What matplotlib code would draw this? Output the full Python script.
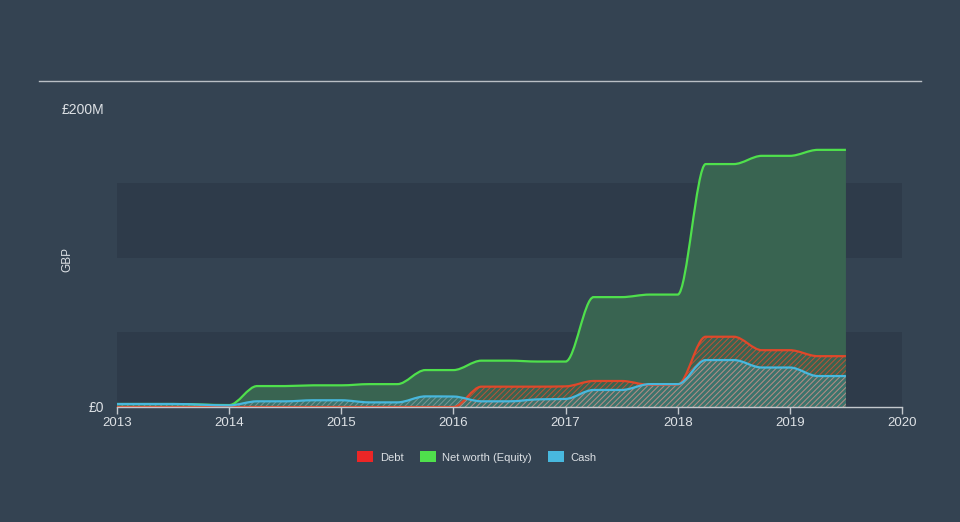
import numpy as np
import matplotlib.pyplot as plt
from matplotlib.path import Path
from matplotlib.patches import PathPatch, Patch
from matplotlib.lines import Line2D

# Balance sheet history (GBP millions)

dates = [2013.0, 2013.5, 2014.0, 2014.25, 2014.5, 2014.75, 2015.0, 2015.25, 2015.5,
         2015.75, 2016.0, 2016.25, 2016.5, 2016.75, 2017.0, 2017.25, 2017.5, 2017.75,
         2018.0, 2018.25, 2018.5, 2018.75, 2019.0, 2019.25, 2019.5]
equity = [2.0, 2.0, 1.3, 14.0, 14.0, 14.5, 14.5, 15.3, 15.3,
          24.7, 24.7, 31.0, 31.0, 30.4, 30.4, 73.5, 73.5, 75.2,
          75.2, 162.5, 162.5, 168.0, 168.0, 172.0, 172.0]
debt = [0.0, 0.0, 0.0, 0.0, 0.0, 0.0, 0.0, 0.0, 0.0,
        0.0, 0.0, 13.6, 13.6, 13.6, 13.8, 17.4, 17.4, 14.8,
        15.0, 47.0, 47.0, 38.0, 38.0, 34.0, 34.0]
cash = [2.0, 2.0, 1.1, 3.8, 3.8, 4.5, 4.5, 3.1, 3.1,
        7.1, 7.0, 3.8, 3.8, 5.1, 5.4, 11.4, 11.4, 15.3,
        15.3, 31.4, 31.4, 26.4, 26.4, 20.7, 20.7]

years = [2013, 2014, 2015, 2016, 2017, 2018, 2019, 2020]
ytick_vals = [0, 200]
ytick_labels = ['£0', '£200M']

BG = '#344352'
BAND = '#2e3b4a'
GREEN = '#4fe04c'
GREEN_FILL = '#396451'
RED = '#e0482a'
BLUE = '#48b8de'
AXIS = '#c3c8cd'
TEXT = '#dde1e5'


def smooth_path(x, y, close=False):
    # monotone cubic curve drawn as bezier segments
    x = np.asarray(x, float)
    y = np.asarray(y, float)
    dx = np.diff(x)
    s = np.diff(y) / dx
    t = np.zeros(len(x))
    for i in range(1, len(x) - 1):
        if s[i - 1] * s[i] <= 0:
            t[i] = 0
        else:
            p = (s[i - 1] * dx[i] + s[i] * dx[i - 1]) / (dx[i - 1] + dx[i])
            t[i] = (np.sign(s[i - 1]) + np.sign(s[i])) * min(abs(s[i - 1]), abs(s[i]), 0.5 * abs(p))
    t[0] = s[0]
    t[-1] = s[-1]
    verts = [(x[0], y[0])]
    codes = [Path.MOVETO]
    for i in range(len(x) - 1):
        h = dx[i] / 3
        verts += [(x[i] + h, y[i] + h * t[i]), (x[i + 1] - h, y[i + 1] - h * t[i + 1]), (x[i + 1], y[i + 1])]
        codes += [Path.CURVE4] * 3
    if close:
        verts += [(x[-1], 0), (x[0], 0), (x[0], 0)]
        codes += [Path.LINETO, Path.LINETO, Path.CLOSEPOLY]
    return Path(verts, codes)


plt.rcParams['font.family'] = ['Liberation Sans', 'DejaVu Sans']
plt.rcParams['hatch.linewidth'] = 0.7

fig = plt.figure(figsize=(9.6, 5.22), dpi=100, facecolor=BG)
ax = fig.add_axes([117 / 960, 1 - 407 / 522, 785 / 960, 299 / 522])
ax.set_facecolor('none')

ax.axhspan(0, 50, color=BAND, lw=0, zorder=0)
ax.axhspan(100, 150, color=BAND, lw=0, zorder=0)

# areas
ax.add_patch(PathPatch(smooth_path(dates, equity, True), facecolor=GREEN_FILL, lw=0, zorder=1))
ax.add_patch(PathPatch(smooth_path(dates, debt, True), facecolor='none', edgecolor=(0.88, 0.30, 0.18, 0.8),
                       hatch='//////', lw=0, zorder=2))
ax.add_patch(PathPatch(smooth_path(dates, cash, True), facecolor=(0.28, 0.72, 0.87, 0.2), lw=0, zorder=3))
ax.add_patch(PathPatch(smooth_path(dates, cash, True), facecolor='none', edgecolor=(0.68, 0.70, 0.70, 0.55),
                       hatch='//////', lw=0, zorder=3))

# lines
ax.add_patch(PathPatch(smooth_path(dates, equity), fill=False, edgecolor=GREEN, lw=1.6, zorder=4))
ax.add_patch(PathPatch(smooth_path(dates, debt), fill=False, edgecolor=RED, lw=1.6, zorder=5))
ax.add_patch(PathPatch(smooth_path(dates, cash), fill=False, edgecolor=BLUE, lw=1.6, zorder=6))

ax.set_xlim(2013, 2020)
ax.set_ylim(0, 200)

for side in ['top', 'right', 'left']:
    ax.spines[side].set_visible(False)
ax.spines['bottom'].set_color(AXIS)
ax.spines['bottom'].set_linewidth(1)
ax.spines['bottom'].set_zorder(7)

ax.set_xticks(years)
ax.set_xticklabels([str(y) for y in years])
ax.tick_params(axis='x', colors=AXIS, length=5, width=1, labelsize=9.5, labelcolor=TEXT, pad=2)
ax.set_yticks(ytick_vals)
ax.set_yticklabels(ytick_labels)
ax.tick_params(axis='y', length=0, labelsize=10, labelcolor=TEXT, pad=9.5)

fig.text(67 / 960, 1 - 260 / 522, 'GBP', rotation=90, ha='center', va='center', fontsize=8.5, color=TEXT)

fig.add_artist(Line2D([39 / 960, 921 / 960], [1 - 81 / 522, 1 - 81 / 522], color='#b9bfc5', lw=1))

handles = [Patch(facecolor='#ec2626', label='Debt'),
           Patch(facecolor='#4fe04c', label='Net worth (Equity)'),
           Patch(facecolor='#48b8de', label='Cash')]
fig.legend(handles=handles, loc='center', bbox_to_anchor=(0.497, 1 - 457 / 522), ncol=3, frameon=False,
           fontsize=8, labelcolor=TEXT, handlelength=1.4, handleheight=1.1, columnspacing=1.5,
           handletextpad=0.6)

plt.savefig('out.png', dpi=100, facecolor=BG)
